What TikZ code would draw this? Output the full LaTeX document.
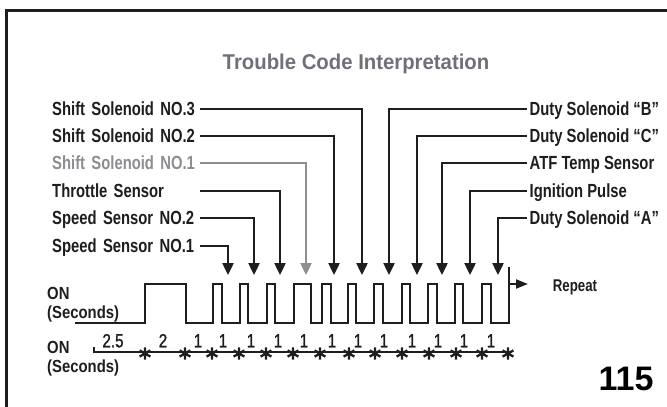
\documentclass[tikz,border=0pt]{standalone}
\usepackage{fontspec}
\setmainfont{Liberation Sans}
\newfontfamily\lblfont[FakeStretch=0.78,UprightFont={* Bold}]{Liberation Sans}
\newfontfamily\onfont[FakeStretch=0.85,UprightFont={* Bold}]{Liberation Sans}
\newfontfamily\titlefont[FakeStretch=0.95,UprightFont={* Bold}]{Liberation Sans}
\newfontfamily\numfont[FakeStretch=0.8,FakeBold=1.2]{Liberation Sans}
\newfontfamily\bigfont[UprightFont={* Bold}]{Liberation Sans}
\usetikzlibrary{arrows.meta}
\definecolor{ink}{HTML}{1E1E1E}
\definecolor{titlegray}{HTML}{6E7177}
\definecolor{paleink}{HTML}{8C8E92}
\tikzset{
  lbl/.style={font=\lblfont\fontsize{19}{22}\selectfont, text=ink, inner sep=0pt, text height=13.5pt, text depth=0pt},
  leftlbl/.style={lbl, anchor=west, text width=148pt, align=left},
  rightlbl/.style={lbl, anchor=west, inner xsep=2.5pt},
  conn/.style={line width=2.4pt, draw=ink, -{Triangle[length=12pt,width=11pt]}},
  wave/.style={line width=2pt, draw=ink},
  numlbl/.style={font=\numfont\fontsize{19}{22}\selectfont, text=ink, anchor=base, inner sep=0pt},
  onlbl/.style={font=\onfont\fontsize{17.5}{18.7}\selectfont, text=ink, anchor=base west, align=left, inner sep=0pt},
  asterisk/.pic={\draw[line width=2.3pt, ink] (0,-6.2) -- (0,6.2) (-5.4,-3.1) -- (5.4,3.1) (-5.4,3.1) -- (5.4,-3.1);}
}
\begin{document}
\begin{tikzpicture}[x=1pt,y=-1pt]
\useasboundingbox (0,0) rectangle (667,407);
\fill[white] (0,0) rectangle (667,407);
% frame
\draw[line width=2.5pt, ink] (6.7,407) |- (667,10.7);
% title
\node[font=\titlefont\fontsize{21.4}{25}\selectfont, text=titlegray, anchor=base, inner sep=0pt] (title) at (356,69) {Trouble Code Interpretation};
% arrow target coordinates
\foreach \i/\x in {1/228,2/254,3/280,4/306,5/334,6/362,7/389,8/417,9/442,10/470,11/498}
  \coordinate (t\i) at (\x,275);
% left labels
\node[leftlbl] (ss3) at (52,109) {Shift Solenoid NO.3};
\node[leftlbl] (ss2) at (52,136) {Shift Solenoid NO.2};
\node[leftlbl, text=paleink] (ss1) at (52,163) {Shift Solenoid NO.1};
\node[leftlbl] (ths) at (52,191) {Throttle Sensor};
\node[leftlbl] (sp2) at (52,218) {Speed Sensor NO.2};
\node[leftlbl] (sp1) at (52,246) {Speed Sensor NO.1};
% right labels
\node[rightlbl] (dsb) at (527,109) {Duty Solenoid “B”};
\node[rightlbl] (dsc) at (527,136) {Duty Solenoid “C”};
\node[rightlbl] (atf) at (527,163) {ATF Temp Sensor};
\node[rightlbl] (ign) at (527,191) {Ignition Pulse};
\node[rightlbl] (dsa) at (527,218) {Duty Solenoid “A”};
% connectors
\draw[conn] (sp1.east) -| (t1);
\draw[conn] (sp2.east) -| (t2);
\draw[conn] (ths.east) -| (t3);
\draw[conn, draw=paleink] (ss1.east) -| (t4);
\draw[conn] (ss2.east) -| (t5);
\draw[conn] (ss3.east) -| (t6);
\draw[conn] (dsb.west) -| (t7);
\draw[conn] (dsc.west) -| (t8);
\draw[conn] (atf.west) -| (t9);
\draw[conn] (ign.west) -| (t10);
\draw[conn] (dsa.west) -| (t11);
% waveform
\draw[wave] (75,323) -- (145,323) -- (145,284) -- (186,284) -- (186,323)
  -- (213,323) -- (213,284) -- (222,284) -- (222,323)
  -- (240,323) -- (240,284) -- (248,284) -- (248,323)
  -- (267,323) -- (267,284) -- (275,284) -- (275,323)
  -- (294,323) -- (294,284) -- (311,284) -- (311,323)
  -- (322,323) -- (322,284) -- (331,284) -- (331,323)
  -- (348,323) -- (348,284) -- (356,284) -- (356,323)
  -- (374,323) -- (374,284) -- (383,284) -- (383,323)
  -- (402,323) -- (402,284) -- (410,284) -- (410,323)
  -- (428,323) -- (428,284) -- (437,284) -- (437,323)
  -- (455,323) -- (455,284) -- (463,284) -- (463,323)
  -- (482,323) -- (482,284) -- (491,284) -- (491,323)
  -- (509,323) -- (509,267);
\coordinate (rptstart) at (509,284);
\coordinate (rptend) at (528,284);
\draw[line width=2pt, ink, -{Triangle[length=12pt,width=9pt]}] (rptstart) -- (rptend);
\node[font=\lblfont\fontsize{17}{20}\selectfont, text=ink, anchor=base west, inner sep=0pt] (rpt) at (552.7,291.7) {Repeat};
% ON labels
\node[onlbl] (on1) at (47,318) {ON\\(Seconds)};
\node[onlbl] (on2) at (47,372) {ON\\(Seconds)};
% timing axis
\draw[wave] (94,347) -- (94,352) -- (508,352);
\foreach \x in {145,185,212,239,266,293,320,349,375,402,429,456,482,508}
  \pic at (\x,353.5) {asterisk};
\node[numlbl] (n25) at (113,347.3) {2.5};
\node[numlbl] (n2) at (163,347.3) {2};
\foreach \x [count=\k] in {198,223,251,278,304,332,358,384,412,438,464,491}
  \node[numlbl] (one\k) at (\x,347.3) {1};
% page number
\node[font=\bigfont\fontsize{34}{40}\selectfont, text=black, anchor=base, inner sep=0pt] (pg) at (626,390.7) {115};
\end{tikzpicture}
\end{document}
